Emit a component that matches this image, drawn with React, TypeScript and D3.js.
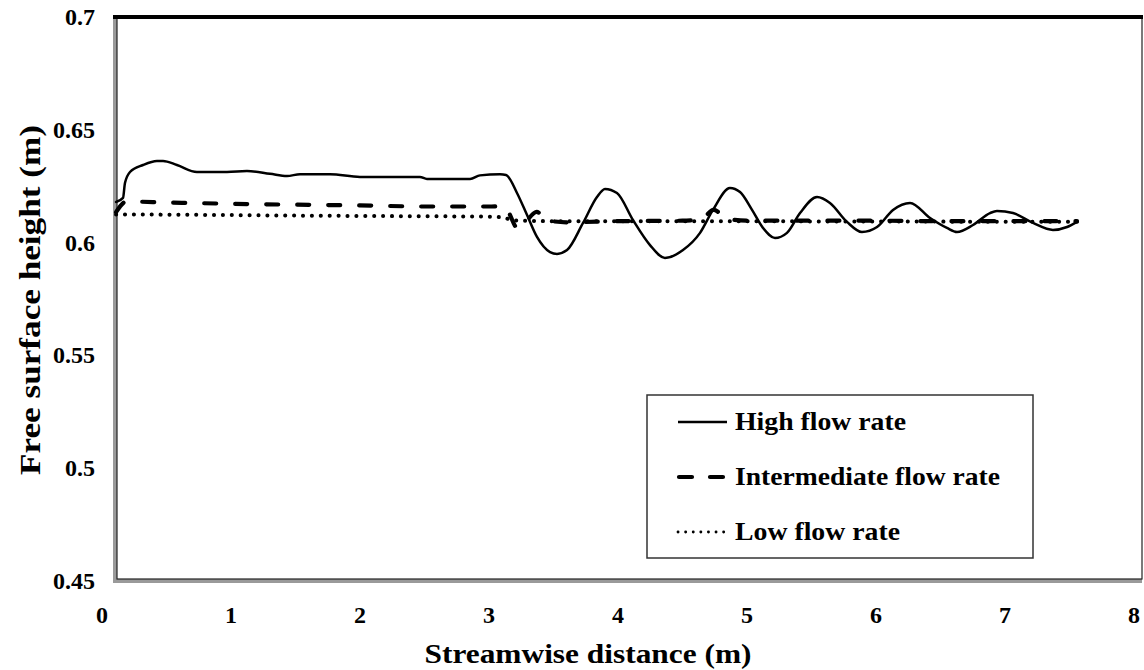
import React from "react";
import * as d3 from "d3";

// Streamwise positions (m) and free-surface heights (m) for each flow rate
const highX = [0.109, 0.163, 0.178, 0.217, 0.318, 0.426, 0.473, 0.581, 0.736, 0.969, 1.124, 1.302, 1.434, 1.535, 1.767, 2.0, 2.465, 2.519, 2.853, 2.93, 3.085, 3.132, 3.217, 3.295, 3.372, 3.473, 3.527, 3.605, 3.729, 3.837, 3.899, 3.992, 4.116, 4.248, 4.364, 4.504, 4.636, 4.736, 4.868, 4.946, 5.039, 5.124, 5.217, 5.31, 5.411, 5.543, 5.643, 5.775, 5.891, 6.008, 6.132, 6.264, 6.419, 6.55, 6.628, 6.752, 6.884, 6.938, 7.062, 7.217, 7.372, 7.481, 7.558];
const highY = [0.618, 0.6198, 0.6264, 0.6313, 0.6344, 0.6362, 0.6362, 0.6344, 0.6313, 0.6313, 0.6317, 0.6305, 0.6295, 0.6303, 0.6303, 0.6291, 0.6291, 0.6282, 0.6282, 0.6298, 0.6303, 0.63, 0.622, 0.6122, 0.6025, 0.5958, 0.595, 0.5967, 0.6087, 0.6202, 0.6238, 0.622, 0.61, 0.5989, 0.5932, 0.5967, 0.6043, 0.6145, 0.6242, 0.6224, 0.6145, 0.6065, 0.602, 0.6043, 0.6131, 0.6202, 0.6176, 0.6092, 0.6047, 0.6069, 0.6145, 0.6176, 0.6109, 0.6065, 0.6047, 0.6078, 0.6131, 0.614, 0.6131, 0.6087, 0.6056, 0.6069, 0.6092];

const midX = [0.109, 0.19, 0.5, 1.0, 1.5, 2.0, 2.5, 3.0, 3.1, 3.15, 3.22, 3.28, 3.37, 3.45, 3.6, 4.0, 4.5, 4.65, 4.74, 4.85, 5.0, 5.5, 6.0, 6.5, 7.0, 7.558];
const midY = [0.6135, 0.6182, 0.6178, 0.6172, 0.6168, 0.6165, 0.616, 0.616, 0.6162, 0.6135, 0.6065, 0.609, 0.6136, 0.61, 0.609, 0.6095, 0.6097, 0.6105, 0.6145, 0.6105, 0.6097, 0.6097, 0.6097, 0.6095, 0.6095, 0.6095];

const lowX = [0.109, 1.0, 1.4, 2.0, 3.0, 3.1, 3.2, 3.5, 4.5, 5.5, 6.5, 7.558];
const lowY = [0.6125, 0.6122, 0.612, 0.6118, 0.6115, 0.6112, 0.6098, 0.6095, 0.6095, 0.6094, 0.6093, 0.6092];

const xTicks = [0, 1, 2, 3, 4, 5, 6, 7, 8];
const yTicks = [0.45, 0.5, 0.55, 0.6, 0.65, 0.7];
const yTickLabels = ["0.45", "0.5", "0.55", "0.6", "0.65", "0.7"];

const seriesNames = ["High flow rate", "Intermediate flow rate", "Low flow rate"];

const W = 1144;
const H = 670;
const plot = { left: 117, top: 17, right: 1142, bottom: 579 };
const FONT = '"Liberation Serif", "Times New Roman", Tinos, Times, serif';

type Pt = [number, number];
const zip = (xs: number[], ys: number[]): Pt[] => xs.map((x, i) => [x, ys[i]]);

const textStyle = (size: number): React.CSSProperties => ({
  fontFamily: FONT,
  fontSize: size,
  fontWeight: 700,
});

export default function App() {
  const x = d3.scaleLinear().domain([0, 8]).range([102, 1134]);
  const y = d3.scaleLinear().domain([0.45, 0.7]).range([581, 17]);

  const line = d3
    .line<Pt>()
    .x((d) => x(d[0]))
    .y((d) => y(d[1]))
    .curve(d3.curveMonotoneX);

  const styles = [
    { strokeWidth: 2.5, dash: undefined as string | undefined },
    { strokeWidth: 4.2, dash: "12 19" },
    { strokeWidth: 4, dash: "0.1 8.8" },
  ];
  const data = [zip(highX, highY), zip(midX, midY), zip(lowX, lowY)];

  const legend = { x: 647, y: 395, w: 386, h: 163 };
  const rowY = [422, 477, 532];
  const textLen = [171, 265, 165];

  return (
    <svg
      width={W}
      height={H}
      viewBox={`0 0 ${W} ${H}`}
      style={{ position: "absolute", left: 0, top: 0, background: "#fff" }}
    >
      <rect x={0} y={0} width={W} height={H} fill="#fff" />

      {/* plot frame */}
      <rect x={113} y={15} width={4} height={568} fill="#9a9a9a" />
      <rect x={113} y={579} width={1029} height={4} fill="#9a9a9a" />
      <rect
        x={plot.left}
        y={plot.top}
        width={plot.right - plot.left}
        height={plot.bottom - plot.top}
        fill="none"
        stroke="#222"
        strokeWidth={1.2}
      />
      <line x1={113} x2={1143} y1={17} y2={17} stroke="#000" strokeWidth={4} />

      {/* series */}
      {data.map((pts, i) => (
        <path
          key={i}
          d={line(pts) ?? ""}
          fill="none"
          stroke="#000"
          strokeWidth={styles[i].strokeWidth}
          strokeDasharray={styles[i].dash}
          strokeLinecap="round"
          strokeLinejoin="round"
        />
      ))}

      {/* x tick labels */}
      {xTicks.map((t) => (
        <text key={t} x={x(t)} y={623} textAnchor="middle" style={textStyle(24)}>
          {t}
        </text>
      ))}

      {/* y tick labels */}
      {yTicks.map((t, i) => (
        <text key={t} x={95} y={y(t) + 8} textAnchor="end" style={textStyle(24)}>
          {yTickLabels[i]}
        </text>
      ))}

      {/* axis titles */}
      <text
        x={588}
        y={663}
        textAnchor="middle"
        style={textStyle(27)}
        textLength={327}
        lengthAdjust="spacingAndGlyphs"
      >
        Streamwise distance (m)
      </text>
      <text
        transform="translate(40,300) rotate(-90)"
        textAnchor="middle"
        style={textStyle(30)}
        textLength={350}
        lengthAdjust="spacingAndGlyphs"
      >
        Free surface height  (m)
      </text>

      {/* legend */}
      <rect
        x={legend.x}
        y={legend.y}
        width={legend.w}
        height={legend.h}
        fill="#fff"
        stroke="#333"
        strokeWidth={1.5}
      />
      {seriesNames.map((name, i) => (
        <g key={name}>
          <line
            x1={i === 1 ? 679 : 678}
            x2={i === 2 ? 725 : 727}
            y1={rowY[i]}
            y2={rowY[i]}
            stroke="#000"
            strokeWidth={i === 0 ? 2.4 : i === 1 ? 4.2 : 2.8}
            strokeDasharray={i === 0 ? undefined : i === 1 ? "13 18" : "0.1 7.5"}
            strokeLinecap={i === 0 ? "butt" : "round"}
          />
          <text
            x={735}
            y={rowY[i] + 8}
            style={textStyle(25)}
            textLength={textLen[i]}
            lengthAdjust="spacingAndGlyphs"
          >
            {name}
          </text>
        </g>
      ))}
    </svg>
  );
}
